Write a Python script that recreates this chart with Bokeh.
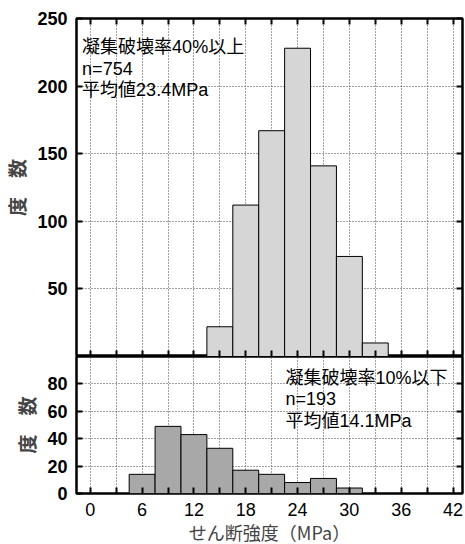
from bokeh.plotting import figure
from bokeh.layouts import column
from bokeh.models import Range1d, FixedTicker, LinearAxis, Label
from bokeh.embed import file_html
from bokeh.resources import INLINE

# ---- data ----
upper_centers = [15, 18, 21, 24, 27, 30, 33]
upper_counts = [22, 112, 167, 228, 141, 74, 10]
lower_centers = [6, 9, 12, 15, 18, 21, 24, 27, 30]
lower_counts = [14, 49, 43, 33, 17, 14, 8, 11, 4]
bin_width = 3
x_major_ticks = [0, 6, 12, 18, 24, 30, 36, 42]
x_minor_ticks = [3, 9, 15, 21, 27, 33, 39]
upper_y_ticks = [50, 100, 150, 200, 250]
lower_y_ticks = [0, 20, 40, 60, 80]
upper_text = ["凝集破壊率40%以上", "n=754", "平均値23.4MPa"]
lower_text = ["凝集破壊率10%以下", "n=193", "平均値14.1MPa"]
x_title = "せん断強度（MPa）"
y_title = "度　数"

LATIN = "Liberation Sans"
CJK = "Noto Sans CJK JP"
MIXED = "Liberation Sans, Noto Sans CJK JP"

xr = Range1d(-1.6, 43.1)
FW = 386


def x_ticker():
    return FixedTicker(ticks=x_major_ticks, minor_ticks=x_minor_ticks)


def tick_style(ax, show_labels):
    ax.axis_line_color = None
    ax.major_tick_in = 6
    ax.major_tick_out = 0
    ax.minor_tick_in = 6
    ax.minor_tick_out = 0
    ax.major_tick_line_color = "black"
    ax.major_tick_line_width = 2
    ax.minor_tick_line_color = "black"
    ax.minor_tick_line_width = 2
    if show_labels:
        ax.major_label_text_font = LATIN
        ax.major_label_text_font_size = "18px"
        ax.major_label_text_color = "black"
    else:
        ax.major_label_text_font_size = "0px"
        ax.major_label_text_color = None
        ax.major_label_text_alpha = 0
        ax.major_label_standoff = 0


def base_fig(yr, fh, top, bottom):
    p = figure(x_range=xr, y_range=yr, frame_width=FW, frame_height=fh,
               output_backend="svg", toolbar_location=None,
               x_axis_location=None, y_axis_location=None,
               min_border_left=76, min_border_right=2,
               min_border_top=top, min_border_bottom=bottom)
    p.outline_line_color = "black"
    p.outline_line_width = 2.5
    p.background_fill_color = "white"
    p.border_fill_color = "white"
    p.xgrid.ticker = x_ticker()
    for g in (p.xgrid, p.ygrid):
        g.grid_line_color = "#444444"
        g.grid_line_dash = "1 2"
        g.grid_line_width = 1
    p.xgrid.minor_grid_line_color = "#444444"
    p.xgrid.minor_grid_line_dash = "1 2"
    p.xgrid.minor_grid_line_width = 1
    return p


def y_axis(ticks):
    ax = LinearAxis(ticker=FixedTicker(ticks=ticks, minor_ticks=[]))
    tick_style(ax, True)
    ax.major_label_text_font_style = "bold"
    ax.major_label_standoff = 9
    ax.axis_label = y_title
    ax.axis_label_text_font = CJK
    ax.axis_label_text_font_size = "19px"
    ax.axis_label_text_font_style = "bold"
    ax.axis_label_text_line_height = 1.0
    ax.axis_label_standoff = 4
    return ax


def blank_axis(ticker):
    ax = LinearAxis(ticker=ticker)
    tick_style(ax, False)
    return ax


# ---- upper panel ----
p1 = base_fig(Range1d(0, 250), 338, 18, 0)
p1.ygrid.ticker = FixedTicker(ticks=upper_y_ticks, minor_ticks=[])
p1.vbar(x=upper_centers, width=bin_width, top=upper_counts, bottom=0,
        fill_color="#d6d6d6", line_color="black", line_width=1)

p1.add_layout(y_axis(upper_y_ticks), "left")
p1.add_layout(blank_axis(FixedTicker(ticks=upper_y_ticks, minor_ticks=[])), "right")
p1.add_layout(blank_axis(x_ticker()), "above")
p1.add_layout(blank_axis(x_ticker()), "below")

for txt, yy in zip(upper_text, [229, 213, 197]):
    p1.add_layout(Label(x=-0.95, y=yy, text=txt, text_font=MIXED,
                        text_font_size="18px", text_baseline="middle",
                        text_color="black"))

# ---- lower panel ----
p2 = base_fig(Range1d(0, 100), 137, 0, 0)
p2.ygrid.ticker = FixedTicker(ticks=lower_y_ticks, minor_ticks=[])
p2.vbar(x=lower_centers, width=bin_width, top=lower_counts, bottom=0,
        fill_color="#a8a8a8", line_color="black", line_width=1)

p2.add_layout(y_axis(lower_y_ticks), "left")
p2.add_layout(blank_axis(FixedTicker(ticks=lower_y_ticks[1:], minor_ticks=[])), "right")
bx2 = LinearAxis(ticker=x_ticker())
tick_style(bx2, True)
bx2.major_label_standoff = 9
bx2.major_label_text_line_height = 1.0
bx2.axis_label = x_title
bx2.axis_label_text_font = CJK
bx2.axis_label_text_font_size = "18px"
bx2.axis_label_text_font_style = "normal"
bx2.axis_label_text_line_height = 1.0
bx2.axis_label_standoff = 0
p2.add_layout(bx2, "below")

for txt, yy in zip(lower_text, [84.3, 69.3, 53.2]):
    p2.add_layout(Label(x=22.6, y=yy, text=txt, text_font=MIXED,
                        text_font_size="18px", text_baseline="middle",
                        text_color="black"))

layout = column(p1, p2, spacing=0)
open("out.html", "w").write(file_html(layout, INLINE))
